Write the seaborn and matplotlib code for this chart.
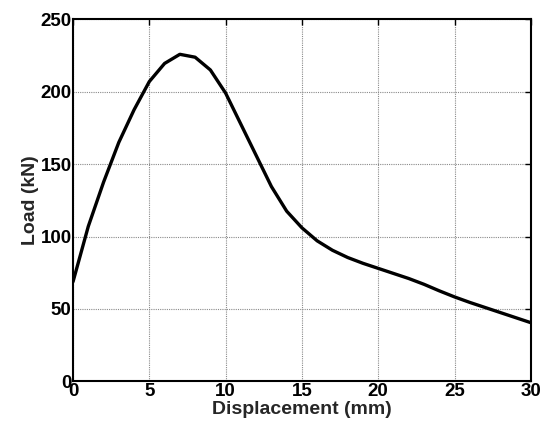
import matplotlib
matplotlib.use("Agg")
import matplotlib.pyplot as plt
import seaborn as sns
import pandas as pd

displacement = list(range(0, 31))
load = [68.8, 107, 137.5, 165, 187.5, 207, 219.5, 225.8, 223.8, 215, 199,
        177.5, 156, 134.5, 117.5, 106, 97, 90.5, 85.5, 81.5, 78, 74.5,
        71, 67, 62.5, 58.3, 54.5, 51, 47.5, 44, 40.5]

x_ticks = [0, 5, 10, 15, 20, 25, 30]
y_ticks = [0, 50, 100, 150, 200, 250]

df = pd.DataFrame({"Displacement (mm)": displacement, "Load (kN)": load})

sns.set_style("white")
plt.rcParams["font.family"] = ["Liberation Sans", "DejaVu Sans"]
plt.rcParams["font.weight"] = "bold"

fig = plt.figure(figsize=(5.45, 4.28), dpi=100)
ax = fig.add_axes([0.134, 0.109, 0.840, 0.846])

sns.lineplot(data=df, x="Displacement (mm)", y="Load (kN)", ax=ax,
             color="black", linewidth=2.4, zorder=3)

ax.set_xlim(0, 30)
ax.set_ylim(0, 250)
ax.set_xticks(x_ticks)
ax.set_yticks(y_ticks)
ax.grid(True, color="#8a8a8a", linestyle=(0, (1, 1)), linewidth=0.8)
ax.tick_params(direction="in", length=4, width=1, top=True, right=True,
               labelsize=13.5, pad=1, colors="black")
for lbl in ax.get_xticklabels() + ax.get_yticklabels():
    lbl.set_fontweight("bold")
for s in ax.spines.values():
    s.set_color("black")
    s.set_linewidth(1.5)
ax.set_xlabel("Displacement (mm)", fontsize=14, fontweight="bold", labelpad=1)
ax.set_ylabel("Load (kN)", fontsize=14, fontweight="bold", labelpad=1)

fig.savefig("out.png", dpi=100)
